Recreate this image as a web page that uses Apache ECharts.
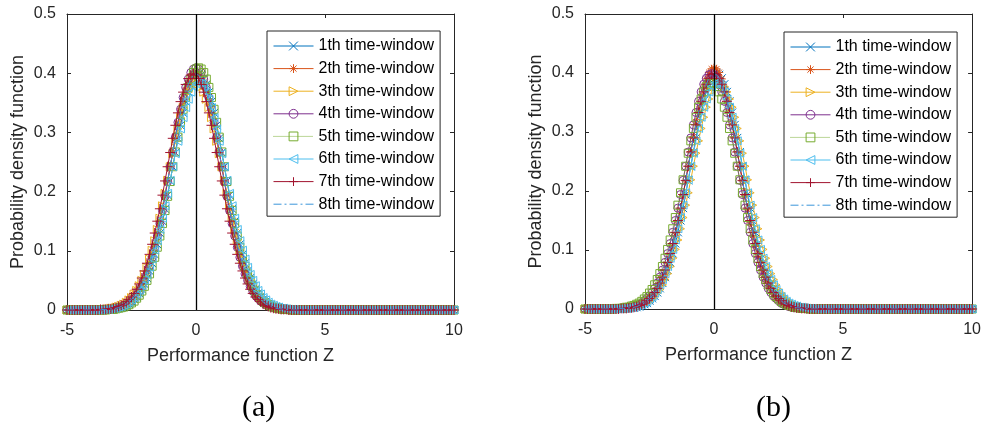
<!DOCTYPE html>
<html><head><meta charset="utf-8">
<script src="https://cdn.jsdelivr.net/npm/echarts@6/dist/echarts.min.js"></script>
<style>html,body{margin:0;padding:0;background:#fff}#c{width:984px;height:427px}</style>
</head><body><div id="c"></div>
<script>
// sample points of the performance function Z
const xs = [
-5,-4.9,-4.8,-4.7,-4.6,-4.5,-4.4,-4.3,-4.2,-4.1,
-4,-3.9,-3.8,-3.7,-3.6,-3.5,-3.4,-3.3,-3.2,-3.1,
-3,-2.9,-2.8,-2.7,-2.6,-2.5,-2.4,-2.3,-2.2,-2.1,
-2,-1.9,-1.8,-1.7,-1.6,-1.5,-1.4,-1.3,-1.2,-1.1,
-1,-0.9,-0.8,-0.7,-0.6,-0.5,-0.4,-0.3,-0.2,-0.1,
0,0.1,0.2,0.3,0.4,0.5,0.6,0.7,0.8,0.9,
1,1.1,1.2,1.3,1.4,1.5,1.6,1.7,1.8,1.9,
2,2.1,2.2,2.3,2.4,2.5,2.6,2.7,2.8,2.9,
3,3.1,3.2,3.3,3.4,3.5,3.6,3.7,3.8,3.9,
4,4.1,4.2,4.3,4.4,4.5,4.6,4.7,4.8,4.9,
5,5.1,5.2,5.3,5.4,5.5,5.6,5.7,5.8,5.9,
6,6.1,6.2,6.3,6.4,6.5,6.6,6.7,6.8,6.9,
7,7.1,7.2,7.3,7.4,7.5,7.6,7.7,7.8,7.9,
8,8.1,8.2,8.3,8.4,8.5,8.6,8.7,8.8,8.9,
9,9.1,9.2,9.3,9.4,9.5,9.6,9.7,9.8,9.9,
10];
const seriesNames = ['1th time-window','2th time-window','3th time-window','4th time-window','5th time-window','6th time-window','7th time-window','8th time-window'];
const xTicks = [-5, 0, 5, 10];
const yTicks = [0, 0.1, 0.2, 0.3, 0.4, 0.5];

// ---- panel (a) ----
const a1 = [0,0,0,0,0,0,0,0,0,0,0,0,0,0,0,
.001,.001,.001,.002,.002,.003,.004,.006,.008,.010,.014,.018,.022,.028,.035,.044,.054,.066,.079,.094,.111,.130,.150,.171,.194,.218,.242,.266,.290,.312,.333,.352,.368,.381,.391,.397,
.399,
.397,.391,.381,.368,.352,.333,.312,.290,.266,.242,.218,.194,.171,.150,.130,.111,.094,.079,.066,.054,.044,.035,.028,.022,.018,.014,.010,.008,.006,.004,.003,.002,.002,.001,.001,.001,
0,0,0,0,0,0,0,0,0,0,0,0,0,0,0,0,0,0,0,0,0,0,0,0,0,0,0,0,0,0,0,0,0,0,0,0,0,0,0,0,0,0,0,0,0,0,0,0,0,0,0,0,0,0,0,0,0,0,0,0,0,0,0];
const a2 = [0,0,0,0,0,0,0,0,0,0,0,0,0,0,
.001,.001,.001,.002,.002,.003,.004,.006,.008,.010,.014,.018,.022,.028,.035,.044,.054,.066,.079,.094,.111,.130,.150,.171,.194,.218,.242,.266,.290,.312,.333,.352,.368,.381,.391,.397,
.399,
.397,.391,.381,.368,.352,.333,.312,.290,.266,.242,.218,.194,.171,.150,.130,.111,.094,.079,.066,.054,.044,.035,.028,.022,.018,.014,.010,.008,.006,.004,.003,.002,.002,.001,.001,.001,
0,0,0,0,0,0,0,0,0,0,0,0,0,0,0,0,0,0,0,0,0,0,0,0,0,0,0,0,0,0,0,0,0,0,0,0,0,0,0,0,0,0,0,0,0,0,0,0,0,0,0,0,0,0,0,0,0,0,0,0,0,0,0,0];
const a3 = [0,0,0,0,0,0,0,0,0,0,0,0,0,
.001,.001,.001,.002,.003,.003,.005,.006,.008,.010,.013,.017,.021,.027,.033,.041,.050,.060,.072,.086,.101,.117,.136,.155,.176,.197,.219,.242,.264,.285,.306,.325,.342,.356,.368,.377,.382,
.384,
.382,.377,.368,.356,.342,.325,.306,.285,.264,.242,.219,.197,.176,.155,.136,.117,.101,.086,.072,.060,.050,.041,.033,.027,.021,.017,.013,.010,.008,.006,.005,.003,.003,.002,.001,.001,.001,
0,0,0,0,0,0,0,0,0,0,0,0,0,0,0,0,0,0,0,0,0,0,0,0,0,0,0,0,0,0,0,0,0,0,0,0,0,0,0,0,0,0,0,0,0,0,0,0,0,0,0,0,0,0,0,0,0,0,0,0,0,0,0];
const a4 = [0,0,0,0,0,0,0,0,0,0,0,0,0,0,0,
.001,.001,.001,.002,.003,.004,.005,.007,.009,.012,.015,.020,.025,.032,.040,.050,.061,.074,.089,.106,.125,.146,.168,.192,.217,.242,.267,.292,.317,.339,.359,.376,.390,.401,.407,
.409,
.407,.401,.390,.376,.359,.339,.317,.292,.267,.242,.217,.192,.168,.146,.125,.106,.089,.074,.061,.050,.040,.032,.025,.020,.015,.012,.009,.007,.005,.004,.003,.002,.001,.001,.001,
0,0,0,0,0,0,0,0,0,0,0,0,0,0,0,0,0,0,0,0,0,0,0,0,0,0,0,0,0,0,0,0,0,0,0,0,0,0,0,0,0,0,0,0,0,0,0,0,0,0,0,0,0,0,0,0,0,0,0,0,0,0,0,0,0];
const a5 = [0,0,0,0,0,0,0,0,0,0,0,0,0,0,0,0,
.001,.001,.001,.002,.003,.004,.005,.007,.009,.012,.015,.020,.025,.032,.040,.050,.061,.074,.089,.106,.125,.146,.168,.192,.217,.242,.267,.292,.317,.339,.359,.376,.390,.401,.407,
.409,
.407,.401,.390,.376,.359,.339,.317,.292,.267,.242,.217,.192,.168,.146,.125,.106,.089,.074,.061,.050,.040,.032,.025,.020,.015,.012,.009,.007,.005,.004,.003,.002,.001,.001,.001,
0,0,0,0,0,0,0,0,0,0,0,0,0,0,0,0,0,0,0,0,0,0,0,0,0,0,0,0,0,0,0,0,0,0,0,0,0,0,0,0,0,0,0,0,0,0,0,0,0,0,0,0,0,0,0,0,0,0,0,0,0,0,0,0];
const a6 = [0,0,0,0,0,0,0,0,0,0,0,0,0,0,
.001,.001,.001,.002,.003,.003,.005,.006,.008,.010,.013,.017,.021,.027,.033,.041,.050,.060,.072,.086,.101,.117,.136,.155,.176,.197,.219,.242,.264,.285,.306,.325,.342,.356,.368,.377,.382,
.384,
.382,.377,.368,.356,.342,.325,.306,.285,.264,.242,.219,.197,.176,.155,.136,.117,.101,.086,.072,.060,.050,.041,.033,.027,.021,.017,.013,.010,.008,.006,.005,.003,.003,.002,.001,.001,.001,
0,0,0,0,0,0,0,0,0,0,0,0,0,0,0,0,0,0,0,0,0,0,0,0,0,0,0,0,0,0,0,0,0,0,0,0,0,0,0,0,0,0,0,0,0,0,0,0,0,0,0,0,0,0,0,0,0,0,0,0,0,0];
const a7 = [0,0,0,0,0,0,0,0,0,0,0,0,0,
.001,.001,.001,.002,.002,.003,.004,.006,.008,.010,.014,.018,.022,.028,.035,.044,.054,.066,.079,.094,.111,.130,.150,.171,.194,.218,.242,.266,.290,.312,.333,.352,.368,.381,.391,.397,
.399,
.397,.391,.381,.368,.352,.333,.312,.290,.266,.242,.218,.194,.171,.150,.130,.111,.094,.079,.066,.054,.044,.035,.028,.022,.018,.014,.010,.008,.006,.004,.003,.002,.002,.001,.001,.001,
0,0,0,0,0,0,0,0,0,0,0,0,0,0,0,0,0,0,0,0,0,0,0,0,0,0,0,0,0,0,0,0,0,0,0,0,0,0,0,0,0,0,0,0,0,0,0,0,0,0,0,0,0,0,0,0,0,0,0,0,0,0,0,0,0];
const a8 = [0,0,0,0,0,0,0,0,0,0,0,0,0,0,
.001,.001,.001,.002,.002,.003,.004,.006,.008,.010,.014,.018,.022,.028,.035,.044,.054,.066,.079,.094,.111,.130,.150,.171,.194,.218,.242,.266,.290,.312,.333,.352,.368,.381,.391,.397,
.399,
.397,.391,.381,.368,.352,.333,.312,.290,.266,.242,.218,.194,.171,.150,.130,.111,.094,.079,.066,.054,.044,.035,.028,.022,.018,.014,.010,.008,.006,.004,.003,.002,.002,.001,.001,.001,
0,0,0,0,0,0,0,0,0,0,0,0,0,0,0,0,0,0,0,0,0,0,0,0,0,0,0,0,0,0,0,0,0,0,0,0,0,0,0,0,0,0,0,0,0,0,0,0,0,0,0,0,0,0,0,0,0,0,0,0,0,0,0,0];

// ---- panel (b) ----
const b1 = [0,0,0,0,0,0,0,0,0,0,0,0,0,0,0,
.001,.001,.001,.002,.002,.003,.004,.006,.008,.010,.014,.018,.022,.028,.035,.044,.054,.066,.079,.094,.111,.130,.150,.171,.194,.218,.242,.266,.290,.312,.333,.352,.368,.381,.391,.397,
.399,
.397,.391,.381,.368,.352,.333,.312,.290,.266,.242,.218,.194,.171,.150,.130,.111,.094,.079,.066,.054,.044,.035,.028,.022,.018,.014,.010,.008,.006,.004,.003,.002,.002,.001,.001,.001,
0,0,0,0,0,0,0,0,0,0,0,0,0,0,0,0,0,0,0,0,0,0,0,0,0,0,0,0,0,0,0,0,0,0,0,0,0,0,0,0,0,0,0,0,0,0,0,0,0,0,0,0,0,0,0,0,0,0,0,0,0,0,0];
const b2 = [0,0,0,0,0,0,0,0,0,0,0,0,0,0,0,
.001,.001,.001,.002,.003,.004,.005,.007,.009,.012,.015,.020,.025,.032,.040,.050,.061,.074,.089,.106,.125,.146,.168,.192,.217,.242,.267,.292,.317,.339,.359,.376,.390,.401,.407,
.409,
.407,.401,.390,.376,.359,.339,.317,.292,.267,.242,.217,.192,.168,.146,.125,.106,.089,.074,.061,.050,.040,.032,.025,.020,.015,.012,.009,.007,.005,.004,.003,.002,.001,.001,.001,
0,0,0,0,0,0,0,0,0,0,0,0,0,0,0,0,0,0,0,0,0,0,0,0,0,0,0,0,0,0,0,0,0,0,0,0,0,0,0,0,0,0,0,0,0,0,0,0,0,0,0,0,0,0,0,0,0,0,0,0,0,0,0,0,0];
const b3 = [0,0,0,0,0,0,0,0,0,0,0,0,0,0,0,
.001,.001,.001,.002,.003,.003,.005,.006,.008,.010,.013,.017,.021,.027,.033,.041,.050,.060,.072,.086,.101,.117,.136,.155,.176,.197,.219,.242,.264,.285,.306,.325,.342,.356,.368,.377,.382,
.384,
.382,.377,.368,.356,.342,.325,.306,.285,.264,.242,.219,.197,.176,.155,.136,.117,.101,.086,.072,.060,.050,.041,.033,.027,.021,.017,.013,.010,.008,.006,.005,.003,.003,.002,.001,.001,.001,
0,0,0,0,0,0,0,0,0,0,0,0,0,0,0,0,0,0,0,0,0,0,0,0,0,0,0,0,0,0,0,0,0,0,0,0,0,0,0,0,0,0,0,0,0,0,0,0,0,0,0,0,0,0,0,0,0,0,0,0,0];
const b4 = [0,0,0,0,0,0,0,0,0,0,0,0,0,
.001,.001,.001,.002,.002,.003,.004,.006,.008,.010,.014,.018,.022,.028,.035,.044,.054,.066,.079,.094,.111,.130,.150,.171,.194,.218,.242,.266,.290,.312,.333,.352,.368,.381,.391,.397,
.399,
.397,.391,.381,.368,.352,.333,.312,.290,.266,.242,.218,.194,.171,.150,.130,.111,.094,.079,.066,.054,.044,.035,.028,.022,.018,.014,.010,.008,.006,.004,.003,.002,.002,.001,.001,.001,
0,0,0,0,0,0,0,0,0,0,0,0,0,0,0,0,0,0,0,0,0,0,0,0,0,0,0,0,0,0,0,0,0,0,0,0,0,0,0,0,0,0,0,0,0,0,0,0,0,0,0,0,0,0,0,0,0,0,0,0,0,0,0,0,0];
const b5 = [0,0,0,0,0,0,0,0,0,0,0,0,
.001,.001,.001,.002,.003,.003,.005,.006,.008,.010,.013,.017,.021,.027,.033,.041,.050,.060,.072,.086,.101,.117,.136,.155,.176,.197,.219,.242,.264,.285,.306,.325,.342,.356,.368,.377,.382,
.384,
.382,.377,.368,.356,.342,.325,.306,.285,.264,.242,.219,.197,.176,.155,.136,.117,.101,.086,.072,.060,.050,.041,.033,.027,.021,.017,.013,.010,.008,.006,.005,.003,.003,.002,.001,.001,.001,
0,0,0,0,0,0,0,0,0,0,0,0,0,0,0,0,0,0,0,0,0,0,0,0,0,0,0,0,0,0,0,0,0,0,0,0,0,0,0,0,0,0,0,0,0,0,0,0,0,0,0,0,0,0,0,0,0,0,0,0,0,0,0,0];
const b6 = [0,0,0,0,0,0,0,0,0,0,0,0,0,0,
.001,.001,.001,.002,.003,.003,.005,.006,.008,.010,.013,.017,.021,.027,.033,.041,.050,.060,.072,.086,.101,.117,.136,.155,.176,.197,.219,.242,.264,.285,.306,.325,.342,.356,.368,.377,.382,
.384,
.382,.377,.368,.356,.342,.325,.306,.285,.264,.242,.219,.197,.176,.155,.136,.117,.101,.086,.072,.060,.050,.041,.033,.027,.021,.017,.013,.010,.008,.006,.005,.003,.003,.002,.001,.001,.001,
0,0,0,0,0,0,0,0,0,0,0,0,0,0,0,0,0,0,0,0,0,0,0,0,0,0,0,0,0,0,0,0,0,0,0,0,0,0,0,0,0,0,0,0,0,0,0,0,0,0,0,0,0,0,0,0,0,0,0,0,0,0];
const b7 = [0,0,0,0,0,0,0,0,0,0,0,0,0,0,
.001,.001,.001,.002,.002,.003,.004,.006,.008,.010,.014,.018,.022,.028,.035,.044,.054,.066,.079,.094,.111,.130,.150,.171,.194,.218,.242,.266,.290,.312,.333,.352,.368,.381,.391,.397,
.399,
.397,.391,.381,.368,.352,.333,.312,.290,.266,.242,.218,.194,.171,.150,.130,.111,.094,.079,.066,.054,.044,.035,.028,.022,.018,.014,.010,.008,.006,.004,.003,.002,.002,.001,.001,.001,
0,0,0,0,0,0,0,0,0,0,0,0,0,0,0,0,0,0,0,0,0,0,0,0,0,0,0,0,0,0,0,0,0,0,0,0,0,0,0,0,0,0,0,0,0,0,0,0,0,0,0,0,0,0,0,0,0,0,0,0,0,0,0,0];
const b8 = [0,0,0,0,0,0,0,0,0,0,0,0,0,0,
.001,.001,.001,.002,.002,.003,.004,.006,.008,.010,.014,.018,.022,.028,.035,.044,.054,.066,.079,.094,.111,.130,.150,.171,.194,.218,.242,.266,.290,.312,.333,.352,.368,.381,.391,.397,
.399,
.397,.391,.381,.368,.352,.333,.312,.290,.266,.242,.218,.194,.171,.150,.130,.111,.094,.079,.066,.054,.044,.035,.028,.022,.018,.014,.010,.008,.006,.004,.003,.002,.002,.001,.001,.001,
0,0,0,0,0,0,0,0,0,0,0,0,0,0,0,0,0,0,0,0,0,0,0,0,0,0,0,0,0,0,0,0,0,0,0,0,0,0,0,0,0,0,0,0,0,0,0,0,0,0,0,0,0,0,0,0,0,0,0,0,0,0,0,0];

const panelA = [a1,a2,a3,a4,a5,a6,a7,a8];
const panelB = [b1,b2,b3,b4,b5,b6,b7,b8];

const colors = ['#0072BD','#D95319','#EDB120','#7E2F8E','#77AC30','#4DBEEE','#A2142F','#3A96DA'];
const symbols = [
  'path://M0,0L10,10M10,0L0,10',
  'path://M5,0L5,10M0,5L10,5M1.5,1.5L8.5,8.5M8.5,1.5L1.5,8.5',
  'path://M0,0L10,5L0,10Z',
  'circle',
  'rect',
  'path://M10,0L0,5L10,10Z',
  'path://M5,0L5,10M0,5L10,5',
  'circle'
];
const lineTypes = ['solid','solid','solid','solid','dotted','solid','solid',[8,3,2,3]];

const FONT = '"Liberation Sans", Arial, sans-serif';
const AX = '#262626';

const chart = echarts.init(document.getElementById('c'), null, {renderer: 'canvas'});

function makeSeries(arrs, g) {
  return arrs.map((arr, k) => {
    const s = {
      type: 'line',
      name: seriesNames[k],
      xAxisIndex: g * 2,
      yAxisIndex: g * 2,
      data: xs.map((x, i) => [x, arr[i]]),
      symbol: symbols[k],
      symbolSize: k === 7 ? 1 : (k === 6 ? 10 : 8),
      symbolKeepAspect: true,
      showAllSymbol: true,
      lineStyle: {color: colors[k], width: 1, type: lineTypes[k]},
      itemStyle: k === 7
        ? {color: 'rgba(0,0,0,0)', borderColor: 'rgba(0,0,0,0)', borderWidth: 0}
        : {color: 'rgba(0,0,0,0)', borderColor: colors[k], borderWidth: 1},
      emphasis: {disabled: true},
      animation: false,
      z: 2 + k * 0.01
    };
    if (k === 7) {
      s.markLine = {
        silent: true, symbol: ['none','none'], animation: false,
        label: {show: false},
        lineStyle: {color: '#000', width: 1.3, type: 'solid'},
        data: [{xAxis: 0}]
      };
    }
    return s;
  });
}

function xAxes(g) {
  const base = {
    gridIndex: g, type: 'value', min: xTicks[0], max: xTicks[xTicks.length - 1], interval: 5,
    splitLine: {show: false},
    axisLine: {show: true, onZero: false, lineStyle: {color: AX, width: 1}},
    axisTick: {show: true, inside: true, length: 4, lineStyle: {color: AX}}
  };
  return [
    Object.assign({}, base, {
      position: 'bottom',
      axisLabel: {color: AX, fontSize: 16, fontFamily: FONT, margin: 13},
      name: 'Performance function Z', nameLocation: 'middle', nameGap: 37,
      nameTextStyle: {color: AX, fontSize: 18, fontFamily: FONT, padding: [0, 40, 0, 0]}
    }),
    Object.assign({}, base, {position: 'top', axisLabel: {show: false}})
  ];
}
function yAxes(g) {
  const base = {
    gridIndex: g, type: 'value', min: yTicks[0], max: yTicks[yTicks.length - 1], interval: 0.1,
    splitLine: {show: false},
    axisLine: {show: true, onZero: false, lineStyle: {color: AX, width: 1}},
    axisTick: {show: true, inside: true, length: 4, lineStyle: {color: AX}}
  };
  return [
    Object.assign({}, base, {
      position: 'left',
      axisLabel: {color: AX, fontSize: 16, fontFamily: FONT, margin: 11,
        formatter: v => String(+(+v).toFixed(1))},
      name: 'Probability density function', nameLocation: 'middle', nameGap: 40,
      nameTextStyle: {color: AX, fontSize: 18, fontFamily: FONT}
    }),
    Object.assign({}, base, {position: 'right', axisLabel: {show: false}})
  ];
}

function legend(left, top) {
  return {
    left: left, top: top, orient: 'vertical',
    data: seriesNames,
    padding: [7, 6, 4, 6],
    itemWidth: 40, itemHeight: 11, itemGap: 6.6,
    backgroundColor: '#fff',
    borderColor: AX, borderWidth: 1,
    selectedMode: false,
    lineStyle: {width: 1},
    itemStyle: {borderWidth: 1},
    textStyle: {color: '#000', fontSize: 16, fontFamily: FONT}
  };
}

const lenOk = panelA.concat(panelB).every(a => a.length === xs.length);

const option = {
  animation: false,
  backgroundColor: '#fff',
  textStyle: {fontFamily: FONT},
  grid: [
    {left: 67, top: 14, width: 387, height: 296},
    {left: 585, top: 14, width: 389, height: 295}
  ],
  xAxis: xAxes(0).concat(xAxes(1)),
  yAxis: yAxes(0).concat(yAxes(1)),
  legend: [legend(267, 31), legend(784, 32)],
  series: makeSeries(panelA, 0).concat(makeSeries(panelB, 1)),
  graphic: [
    {type: 'text', left: 242, top: 393, style: {text: '(a)', font: '30px "Liberation Serif", "Times New Roman", serif', fill: '#000'}},
    {type: 'text', left: 756, top: 393, style: {text: '(b)', font: '30px "Liberation Serif", "Times New Roman", serif', fill: '#000'}}
  ].concat(lenOk ? [] : [{type: 'text', left: 10, top: 10, style: {text: 'LEN MISMATCH', fill: 'red', font: '20px sans-serif'}}])
};
chart.setOption(option);
</script>
</body></html>
